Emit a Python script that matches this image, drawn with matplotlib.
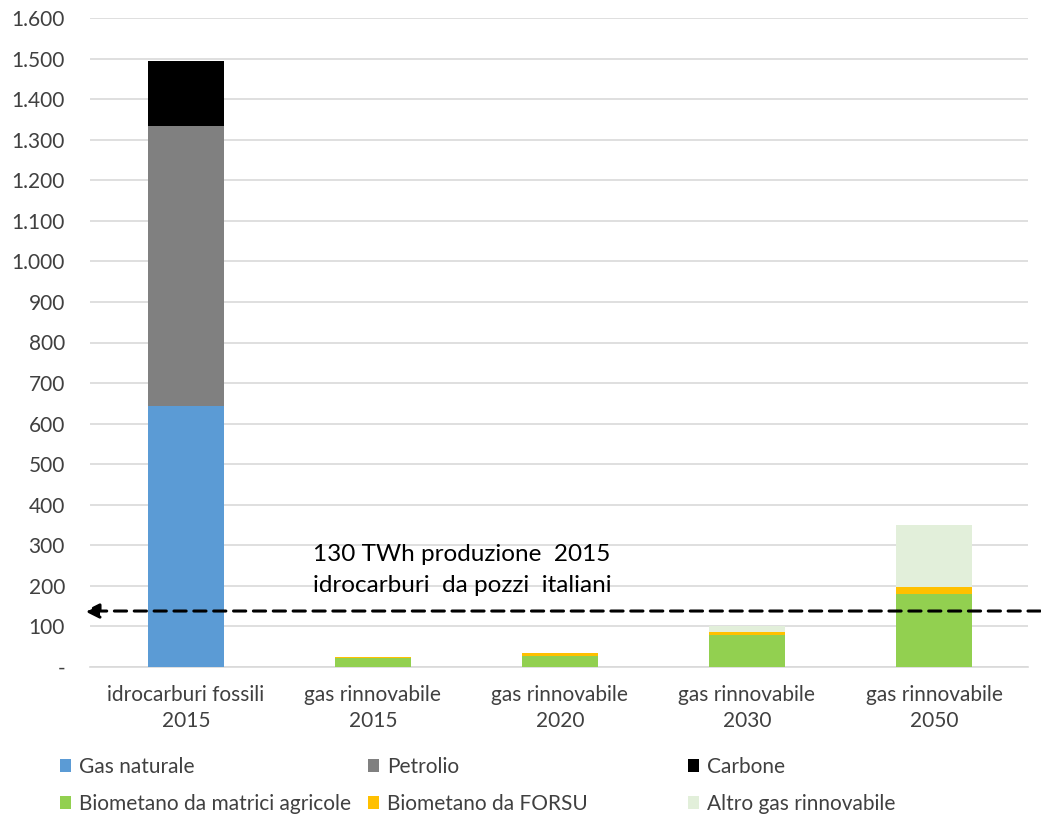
import matplotlib
matplotlib.use("Agg")
import matplotlib.pyplot as plt
from matplotlib.patches import Patch
import numpy as np

categories = ["idrocarburi fossili\n2015", "gas rinnovabile\n2015", "gas rinnovabile\n2020",
              "gas rinnovabile\n2030", "gas rinnovabile\n2050"]
series_names = ["Gas naturale", "Petrolio", "Carbone",
                "Biometano da matrici agricole", "Biometano da FORSU", "Altro gas rinnovabile"]
gas_naturale = [643, 0, 0, 0, 0]
petrolio = [691, 0, 0, 0, 0]
carbone = [160, 0, 0, 0, 0]
bio_agricole = [0, 21, 27, 79, 181]
bio_forsu = [0, 4, 8, 7, 15]
altro_gas = [0, 0, 0, 14, 155]
colors = ["#5B9BD5", "#808080", "#000000", "#92D050", "#FFC000", "#E2EFDA"]
yticks = [0, 100, 200, 300, 400, 500, 600, 700, 800, 900, 1000, 1100, 1200, 1300, 1400, 1500, 1600]
ytick_labels = ["-", "100", "200", "300", "400", "500", "600", "700", "800", "900",
                "1.000", "1.100", "1.200", "1.300", "1.400", "1.500", "1.600"]
arrow_level = 138
annotation = "130 TWh produzione  2015\nidrocarburi  da pozzi  italiani"

plt.rcParams['font.family'] = ['Lato', 'DejaVu Sans']
fig = plt.figure(figsize=(10.41, 8.16), dpi=100)
ax = fig.add_axes([90/1041, 1-667/816, 938/1041, 649/816])

x = np.arange(len(categories))
width = 0.41
bottom = np.zeros(len(categories))
all_series = [gas_naturale, petrolio, carbone, bio_agricole, bio_forsu, altro_gas]
for name, vals, c in zip(series_names, all_series, colors):
    vals = np.array(vals, dtype=float)
    ax.bar(x, vals, width, bottom=bottom, color=c, label=name, zorder=3)
    bottom += vals

ax.set_xlim(-0.513, 4.503)
ax.set_ylim(0, 1600)
ax.set_yticks(yticks)
ax.set_yticklabels(ytick_labels)
ax.set_xticks(x)
ax.set_xticklabels(categories, fontsize=15, color="#404040", linespacing=1.35)
ax.tick_params(axis='y', labelsize=15, colors="#404040", length=0, pad=18)
ax.tick_params(axis='x', length=0, pad=13)
ax.grid(axis='y', color="#D9D9D9", linewidth=1.2, zorder=0)
for s in ["top", "right", "left"]:
    ax.spines[s].set_visible(False)
ax.spines["bottom"].set_color("#D9D9D9")
ax.spines["bottom"].set_linewidth(1.2)

# dashed arrow
ax.annotate("", xy=(-0.006, arrow_level), xycoords=('axes fraction', 'data'),
            xytext=(1.013, arrow_level), textcoords=('axes fraction', 'data'),
            arrowprops=dict(arrowstyle="-|>", linestyle=(0, (4, 2.5)), lw=2.2, color="black",
                            mutation_scale=22, shrinkA=0, shrinkB=0),
            annotation_clip=False, zorder=5)
ax.text(0.68, 239, annotation, fontsize=17.5, color="#000000", va="center", ha="left",
        linespacing=1.55, zorder=6)

# legend in three columns
handles = [Patch(facecolor=c, edgecolor='none') for c in colors]
col_x = [60/1041, 368/1041, 688/1041]
for i in range(3):
    h = [handles[i], handles[i+3]]
    l = [series_names[i], series_names[i+3]]
    fig.legend(h, l, loc='upper left', bbox_to_anchor=(col_x[i], 1-757/816), frameon=False,
               fontsize=15, handlelength=0.55, handleheight=0.55, handletextpad=0.35,
               labelspacing=0.8, labelcolor="#404040", borderaxespad=0, borderpad=0)

fig.savefig("out.png", dpi=100)
